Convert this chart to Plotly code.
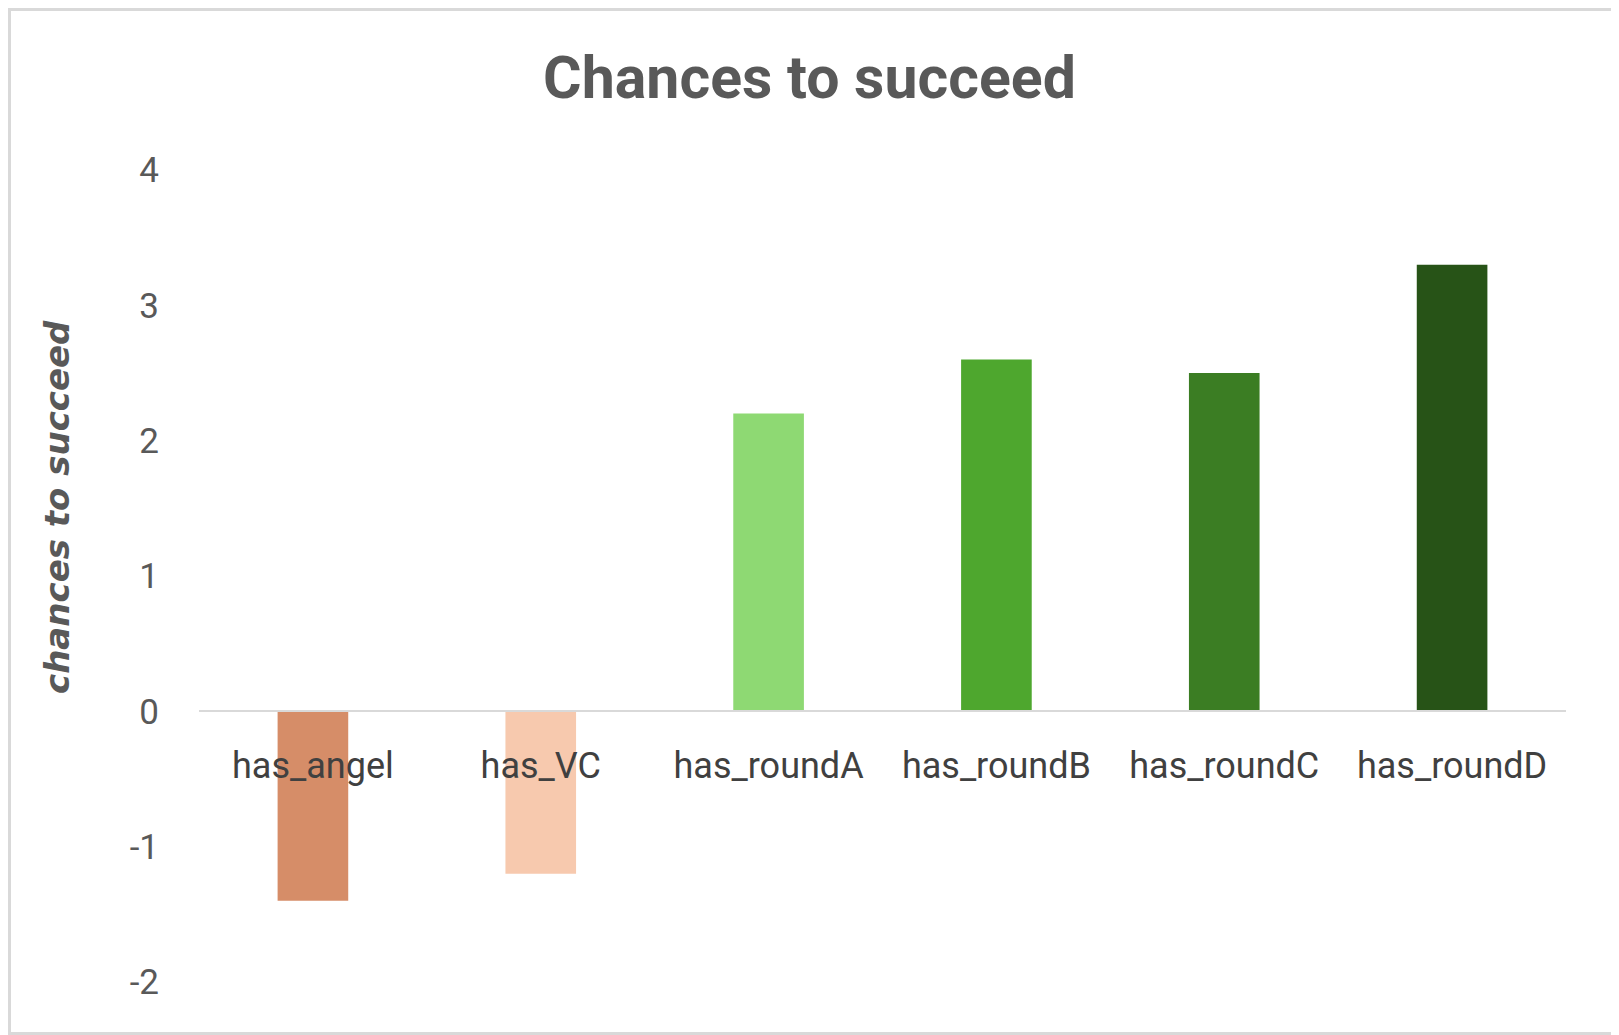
import plotly.graph_objects as go

# Data
categories = ["has_angel", "has_VC", "has_roundA", "has_roundB", "has_roundC", "has_roundD"]
values = [-1.4, -1.2, 2.2, 2.6, 2.5, 3.3]
bar_colors = ["#D68D68", "#F7C9AE", "#8ED973", "#4EA72E", "#3B7D23", "#275317"]
y_ticks = [-2, -1, 0, 1, 2, 3, 4]
y_tick_labels = ["-2", "-1", "0", "1", "2", "3", "4"]

# the page body has an 8px margin, so the figure is 8px smaller on each side
W, H = 1611, 1027
ML, MR, MT, MB = 191, 53, 162, 53
pw, ph = W - ML - MR, H - MT - MB

fig = go.Figure(go.Bar(
    x=categories, y=values,
    marker=dict(color=bar_colors, line=dict(width=0)),
))

fig.update_layout(
    width=W, height=H,
    margin=dict(l=ML, r=MR, t=MT, b=MB, pad=0),
    paper_bgcolor="white", plot_bgcolor="white",
    bargap=0.69,
    showlegend=False,
    title=dict(
        text="Chances to succeed",
        x=801.5 / W, xanchor="center", xref="container",
        y=1 - 69 / H, yanchor="middle", yref="container",
        font=dict(family="Roboto", size=59, color="#595959", weight="bold"),
    ),
    xaxis=dict(
        anchor="free", position=1 / 3,
        showline=True, linecolor="#D9D9D9", linewidth=2,
        showgrid=False, zeroline=False, ticks="",
        tickfont=dict(family="Roboto", size=36, color="#404040"),
        ticklabelstandoff=22,
    ),
    yaxis=dict(
        range=[-2, 4], tickvals=y_ticks, ticktext=y_tick_labels,
        showgrid=False, zeroline=False, showline=False, ticks="",
        tickfont=dict(family="Roboto", size=35, color="#595959"),
        ticklabelstandoff=39,
    ),
)

# axis title (sits above the plot centre, as in the source chart)
fig.add_annotation(
    text="chances to succeed", textangle=-90,
    xref="paper", yref="paper",
    x=(49 - ML) / pw, y=(H - 499 - MB) / ph,
    xanchor="center", yanchor="middle", showarrow=False,
    font=dict(family="DejaVu Sans", size=34, color="#595959", weight="bold", style="italic"),
)

# chart border around the whole figure
fig.add_shape(
    type="rect", xref="paper", yref="paper",
    x0=-(ML - 1.5) / pw, x1=1 + (MR - 1.5) / pw,
    y0=-(MB - 1.5) / ph, y1=1 + (MT - 1.5) / ph,
    line=dict(color="#D9D9D9", width=3), layer="below",
)

fig.write_html("out.html")
